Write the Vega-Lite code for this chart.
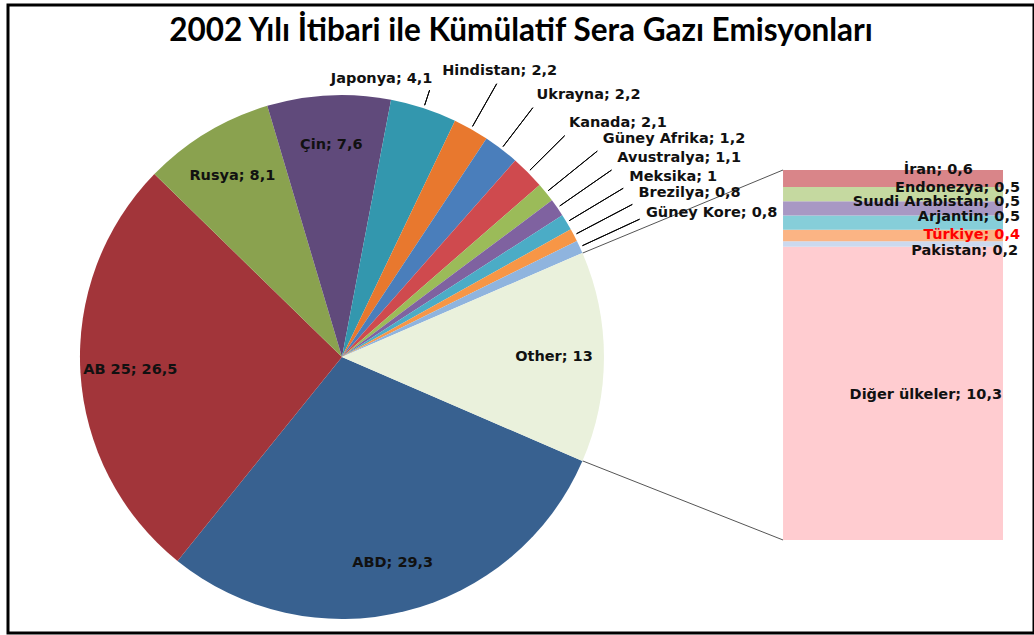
{
  "$schema": "https://vega.github.io/schema/vega-lite/v6.json",
  "width": 1026,
  "height": 628,
  "autosize": {"type": "none"},
  "padding": {"left": 8, "top": 5, "right": 0, "bottom": 2},
  "background": "white",
  "title": {
    "text": "2002 Yılı İtibari ile Kümülatif Sera Gazı Emisyonları",
    "font": "Lato",
    "fontSize": 31.5,
    "fontWeight": "bold",
    "color": "#000000",
    "anchor": "middle",
    "offset": -42
  },
  "config": {
    "view": {"stroke": "#000000", "strokeWidth": 3},
    "text": {"font": "DejaVu Sans", "fontSize": 14.5, "fontWeight": "bold", "fill": "#111111"}
  },
  "datasets": {
    "pie": [
      {"i": 1, "name": "ABD", "value": 29.3, "label": "ABD; 29,3"},
      {"i": 2, "name": "AB 25", "value": 26.5, "label": "AB 25; 26,5"},
      {"i": 3, "name": "Rusya", "value": 8.1, "label": "Rusya; 8,1"},
      {"i": 4, "name": "Çin", "value": 7.6, "label": "Çin; 7,6"},
      {"i": 5, "name": "Japonya", "value": 4.1, "label": "Japonya; 4,1"},
      {"i": 6, "name": "Hindistan", "value": 2.2, "label": "Hindistan; 2,2"},
      {"i": 7, "name": "Ukrayna", "value": 2.2, "label": "Ukrayna; 2,2"},
      {"i": 8, "name": "Kanada", "value": 2.1, "label": "Kanada; 2,1"},
      {"i": 9, "name": "Güney Afrika", "value": 1.2, "label": "Güney Afrika; 1,2"},
      {"i": 10, "name": "Avustralya", "value": 1.1, "label": "Avustralya; 1,1"},
      {"i": 11, "name": "Meksika", "value": 1, "label": "Meksika; 1"},
      {"i": 12, "name": "Brezilya", "value": 0.8, "label": "Brezilya; 0,8"},
      {"i": 13, "name": "Güney Kore", "value": 0.8, "label": "Güney Kore; 0,8"},
      {"i": 14, "name": "Other", "value": 13, "label": "Other; 13"}
    ],
    "bar": [
      {"i": 1, "name": "Diğer ülkeler", "value": 10.3, "label": "Diğer ülkeler; 10,3"},
      {"i": 2, "name": "Pakistan", "value": 0.2, "label": "Pakistan; 0,2"},
      {"i": 3, "name": "Türkiye", "value": 0.4, "label": "Türkiye; 0,4"},
      {"i": 4, "name": "Arjantin", "value": 0.5, "label": "Arjantin; 0,5"},
      {"i": 5, "name": "Suudi Arabistan", "value": 0.5, "label": "Suudi Arabistan; 0,5"},
      {"i": 6, "name": "Endonezya", "value": 0.5, "label": "Endonezya; 0,5"},
      {"i": 7, "name": "İran", "value": 0.6, "label": "İran; 0,6"}
    ],
    "one": [{}]
  },
  "layer": [
    {
      "data": {"name": "one"},
      "mark": {"type": "rule", "stroke": "#555555", "strokeWidth": 1},
      "encoding": {
        "x": {"datum": 56.0, "type": "quantitative", "scale": {"domain": [0, 100], "nice": false, "zero": false}, "axis": null},
        "y": {"datum": 10.08, "type": "quantitative", "scale": {"domain": [-3.2676, 18.797], "nice": false, "zero": false}, "axis": null},
        "x2": {"datum": 75.54},
        "y2": {"datum": 13}
      }
    },
    {
      "data": {"name": "one"},
      "mark": {"type": "rule", "stroke": "#555555", "strokeWidth": 1},
      "encoding": {
        "x": {"datum": 56.0, "type": "quantitative"},
        "y": {"datum": 2.78, "type": "quantitative"},
        "x2": {"datum": 75.54},
        "y2": {"datum": 0}
      }
    },
    {
      "data": {"name": "pie"},
      "mark": {"type": "arc", "radius": 262},
      "encoding": {
        "x": {"datum": 32.55, "type": "quantitative"},
        "y": {"datum": 6.43, "type": "quantitative"},
        "theta": {"field": "value", "type": "quantitative", "stack": true, "scale": {"domain": [0, 100], "range": [1.9792, 8.2624]}},
        "order": {"field": "i"},
        "color": {
          "field": "name", "type": "nominal", "legend": null,
          "scale": {
            "domain": ["ABD", "AB 25", "Rusya", "Çin", "Japonya", "Hindistan", "Ukrayna", "Kanada", "Güney Afrika", "Avustralya", "Meksika", "Brezilya", "Güney Kore", "Other", "Diğer ülkeler", "Pakistan", "Türkiye", "Arjantin", "Suudi Arabistan", "Endonezya", "İran"],
            "range": ["#386190", "#A2353A", "#8AA24F", "#604A7B", "#3397AE", "#E8782E", "#4A7EBB", "#CF4A4E", "#9BBB59", "#7F62A0", "#4BACC6", "#F79646", "#8FB4DE", "#EAF1DC", "#FFCCD0", "#CCD9EE", "#FBB484", "#86CED9", "#A898C4", "#C5D9A0", "#D98589"]
          }
        }
      }
    },
    {
      "data": {"name": "pie"},
      "mark": {"type": "arc", "radius": 314, "radius2": 265, "padAngle": 3.1, "stroke": "#000000", "strokeWidth": 1, "fillOpacity": 0},
      "encoding": {
        "x": {"datum": 32.55, "type": "quantitative"},
        "y": {"datum": 6.43, "type": "quantitative"},
        "theta": {"field": "value", "type": "quantitative", "stack": true},
        "order": {"field": "i"},
        "strokeOpacity": {"condition": {"test": "datum.name == 'Hindistan' || datum.name == 'Ukrayna' || datum.name == 'Kanada'", "value": 1}, "value": 0}
      }
    },
    {
      "data": {"name": "pie"},
      "mark": {"type": "arc", "radius": 328, "radius2": 265, "padAngle": 3.1, "stroke": "#000000", "strokeWidth": 1, "fillOpacity": 0},
      "encoding": {
        "x": {"datum": 32.55, "type": "quantitative"},
        "y": {"datum": 6.43, "type": "quantitative"},
        "theta": {"field": "value", "type": "quantitative", "stack": true},
        "order": {"field": "i"},
        "strokeOpacity": {"condition": {"test": "datum.value < 2", "value": 1}, "value": 0}
      }
    },
    {
      "data": {"name": "pie"},
      "mark": {"type": "arc", "radius": 281, "radius2": 265, "padAngle": 3.1, "stroke": "#000000", "strokeWidth": 1, "fillOpacity": 0},
      "encoding": {
        "x": {"datum": 32.55, "type": "quantitative"},
        "y": {"datum": 6.43, "type": "quantitative"},
        "theta": {"field": "value", "type": "quantitative", "stack": true},
        "order": {"field": "i"},
        "strokeOpacity": {"condition": {"test": "datum.name == 'Japonya'", "value": 1}, "value": 0}
      }
    },
    {
      "data": {"name": "pie"},
      "mark": {"type": "text", "radius": 212, "align": "center", "baseline": "middle"},
      "encoding": {
        "x": {"datum": 32.55, "type": "quantitative"},
        "y": {"datum": 6.43, "type": "quantitative"},
        "theta": {"field": "value", "type": "quantitative", "stack": true},
        "order": {"field": "i"},
        "text": {"condition": {"test": "datum.value > 5", "field": "label"}, "value": ""}
      }
    },
    {
      "data": {"name": "pie"},
      "mark": {"type": "text", "radius": 290, "align": "right", "baseline": "middle", "dy": -2},
      "encoding": {
        "x": {"datum": 32.55, "type": "quantitative"},
        "y": {"datum": 6.43, "type": "quantitative"},
        "theta": {"field": "value", "type": "quantitative", "stack": true},
        "order": {"field": "i"},
        "text": {"condition": {"test": "datum.name == 'Japonya'", "field": "label"}, "value": ""}
      }
    },
    {
      "data": {"name": "pie"},
      "mark": {"type": "text", "radius": 320, "align": "center", "baseline": "middle", "dy": -8},
      "encoding": {
        "x": {"datum": 32.55, "type": "quantitative"},
        "y": {"datum": 6.43, "type": "quantitative"},
        "theta": {"field": "value", "type": "quantitative", "stack": true},
        "order": {"field": "i"},
        "text": {"condition": {"test": "datum.name == 'Hindistan'", "field": "label"}, "value": ""}
      }
    },
    {
      "data": {"name": "pie"},
      "mark": {"type": "text", "radius": 320, "align": "left", "baseline": "middle", "dy": -8},
      "encoding": {
        "x": {"datum": 32.55, "type": "quantitative"},
        "y": {"datum": 6.43, "type": "quantitative"},
        "theta": {"field": "value", "type": "quantitative", "stack": true},
        "order": {"field": "i"},
        "text": {"condition": {"test": "datum.name == 'Ukrayna' || datum.name == 'Kanada'", "field": "label"}, "value": ""}
      }
    },
    {
      "data": {"name": "pie"},
      "mark": {"type": "text", "radius": 335, "align": "left", "baseline": "middle", "dy": -8},
      "encoding": {
        "x": {"datum": 32.55, "type": "quantitative"},
        "y": {"datum": 6.43, "type": "quantitative"},
        "theta": {"field": "value", "type": "quantitative", "stack": true},
        "order": {"field": "i"},
        "text": {"condition": {"test": "datum.value < 2 && datum.name != 'Güney Kore'", "field": "label"}, "value": ""}
      }
    },
    {
      "data": {"name": "pie"},
      "mark": {"type": "text", "radius": 335, "align": "left", "baseline": "middle", "dy": -3},
      "encoding": {
        "x": {"datum": 32.55, "type": "quantitative"},
        "y": {"datum": 6.43, "type": "quantitative"},
        "theta": {"field": "value", "type": "quantitative", "stack": true},
        "order": {"field": "i"},
        "text": {"condition": {"test": "datum.name == 'Güney Kore'", "field": "label"}, "value": ""}
      }
    },
    {
      "data": {"name": "bar"},
      "transform": [{"stack": "value", "groupby": [], "sort": [{"field": "i", "order": "ascending"}], "as": ["v0", "v1"]}],
      "layer": [
        {
          "mark": {"type": "rect"},
          "encoding": {
            "x": {"datum": 75.54, "type": "quantitative"},
            "x2": {"datum": 96.98},
            "y": {"field": "v0", "type": "quantitative"},
            "y2": {"field": "v1"},
            "color": {"field": "name", "type": "nominal", "legend": null}
          }
        },
        {
          "mark": {"type": "text", "align": "right", "baseline": "middle", "dy": 1},
          "encoding": {
            "x": {"datum": 98.64, "type": "quantitative"},
            "y": {"field": "v1", "type": "quantitative"},
            "text": {"condition": {"test": "datum.name == 'Endonezya' || datum.name == 'Suudi Arabistan' || datum.name == 'Arjantin'", "field": "label"}, "value": ""}
          }
        },
        {
          "mark": {"type": "text", "align": "right", "baseline": "middle", "dy": 5, "fill": "#FF0000"},
          "encoding": {
            "x": {"datum": 98.64, "type": "quantitative"},
            "y": {"field": "v1", "type": "quantitative"},
            "text": {"condition": {"test": "datum.name == 'Türkiye'", "field": "label"}, "value": ""}
          }
        },
        {
          "mark": {"type": "text", "align": "right", "baseline": "middle", "dy": 10},
          "encoding": {
            "x": {"datum": 98.45, "type": "quantitative"},
            "y": {"field": "v1", "type": "quantitative"},
            "text": {"condition": {"test": "datum.name == 'Pakistan'", "field": "label"}, "value": ""}
          }
        },
        {
          "mark": {"type": "text", "align": "right", "baseline": "middle"},
          "encoding": {
            "x": {"datum": 94.05, "type": "quantitative"},
            "y": {"field": "v1", "type": "quantitative"},
            "text": {"condition": {"test": "datum.name == 'İran'", "field": "label"}, "value": ""}
          }
        },
        {
          "mark": {"type": "text", "align": "right", "baseline": "middle", "dy": 148},
          "encoding": {
            "x": {"datum": 96.88, "type": "quantitative"},
            "y": {"field": "v1", "type": "quantitative"},
            "text": {"condition": {"test": "datum.value > 5", "field": "label"}, "value": ""}
          }
        }
      ]
    }
  ]
}
